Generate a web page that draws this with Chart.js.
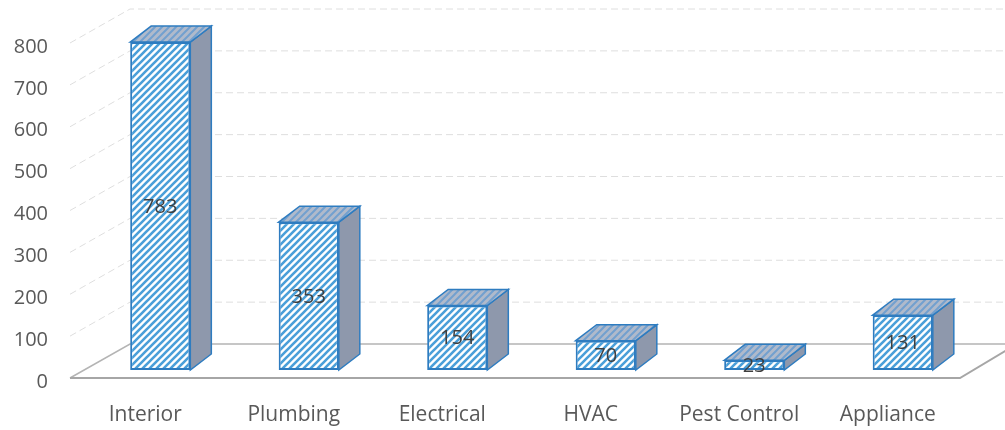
<!DOCTYPE html>
<html>
<head>
<meta charset="utf-8">
<script src="https://cdn.jsdelivr.net/npm/chart.js@4.4.1/dist/chart.umd.min.js"></script>
<style>
  body { margin: 0; background: #fff; }
  #wrap { width: 1005px; height: 430px; position: relative; }
</style>
</head>
<body>
<div id="wrap"><canvas id="myChart"></canvas></div>
<script>
const categories = ['Interior', 'Plumbing', 'Electrical', 'HVAC', 'Pest Control', 'Appliance'];
const counts = [783, 353, 154, 70, 23, 131];
const yMax = 800;
const yStep = 100;

// depth of the boxes and of the floor / back wall
const DEPTH_X = 21, DEPTH_Y = 16;
const FLOOR_FRONT = { dx: -16, dy: 8 };
const FLOOR_BACK = { dx: 44, dy: -26 };
const FONT = 'Open Sans';

function stripePattern(bg, stripe, size, width) {
    const c = document.createElement('canvas');
    c.width = size;
    c.height = size;
    const g = c.getContext('2d');
    if (bg) {
        g.fillStyle = bg;
        g.fillRect(0, 0, size, size);
    }
    g.strokeStyle = stripe;
    g.lineWidth = width;
    g.beginPath();
    g.moveTo(-1, size + 1); g.lineTo(size + 1, -1);
    g.moveTo(-1, 1); g.lineTo(1, -1);
    g.moveTo(size - 1, size + 1); g.lineTo(size + 1, size - 1);
    g.stroke();
    return g.createPattern(c, 'repeat');
}

const ctx = document.getElementById('myChart').getContext('2d');
const frontFill = stripePattern('#ffffff', '#4a9fd9', 7, 2.6);
const topFill = stripePattern('#b0bacb', '#72a0cf', 7, 2.0);

const boxPlugin = {
    id: 'box3d',
    beforeDatasetsDraw(chart) {
        const { ctx, chartArea, scales } = chart;
        const y = scales.y;
        const left = chartArea.left, right = chartArea.right;
        const y0 = y.getPixelForValue(0);
        ctx.save();

        // back wall grid lines with the short diagonals on the side wall
        ctx.strokeStyle = '#dedede';
        ctx.lineWidth = 1;
        ctx.setLineDash([7, 4]);
        for (let v = yStep; v <= yMax; v += yStep) {
            const py = y.getPixelForValue(v);
            ctx.beginPath();
            ctx.moveTo(left + FLOOR_FRONT.dx, py + FLOOR_FRONT.dy);
            ctx.lineTo(left + FLOOR_BACK.dx, py + FLOOR_BACK.dy);
            ctx.lineTo(chart.width, py + FLOOR_BACK.dy);
            ctx.stroke();
        }
        ctx.setLineDash([]);

        // floor
        ctx.strokeStyle = '#b4b4b4';
        ctx.lineWidth = 1.5;
        ctx.beginPath();
        ctx.moveTo(left + FLOOR_FRONT.dx, y0 + FLOOR_FRONT.dy);
        ctx.lineTo(left + FLOOR_BACK.dx, y0 + FLOOR_BACK.dy);
        ctx.lineTo(chart.width, y0 + FLOOR_BACK.dy);
        ctx.stroke();
        ctx.strokeStyle = '#a6a6a6';
        ctx.lineWidth = 2;
        ctx.beginPath();
        ctx.moveTo(left + FLOOR_FRONT.dx, y0 + FLOOR_FRONT.dy);
        ctx.lineTo(right - 17, y0 + FLOOR_FRONT.dy);
        ctx.lineTo(right + 30, y0 + FLOOR_FRONT.dy - 28);
        ctx.stroke();
        ctx.restore();
    },
    afterDatasetsDraw(chart) {
        const { ctx } = chart;
        const meta = chart.getDatasetMeta(0);
        ctx.save();
        meta.data.forEach((bar, i) => {
            const l = bar.x - bar.width / 2;
            const r = bar.x + bar.width / 2;
            const t = bar.y;
            const b = bar.base;

            // right side
            ctx.beginPath();
            ctx.moveTo(r, t);
            ctx.lineTo(r + DEPTH_X, t - DEPTH_Y);
            ctx.lineTo(r + DEPTH_X, b - DEPTH_Y);
            ctx.lineTo(r, b);
            ctx.closePath();
            ctx.fillStyle = '#8e98ac';
            ctx.fill();
            ctx.strokeStyle = '#2e7cc0';
            ctx.lineWidth = 1.5;
            ctx.stroke();

            // top
            ctx.beginPath();
            ctx.moveTo(l, t);
            ctx.lineTo(l + DEPTH_X, t - DEPTH_Y);
            ctx.lineTo(r + DEPTH_X, t - DEPTH_Y);
            ctx.lineTo(r, t);
            ctx.closePath();
            ctx.fillStyle = topFill;
            ctx.fill();
            ctx.stroke();

            // value label
            ctx.fillStyle = '#3f3f3f';
            ctx.font = '20px "' + FONT + '"';
            ctx.textAlign = 'center';
            ctx.textBaseline = 'middle';
            ctx.fillText(counts[i], bar.x, (t + b) / 2 + 1);
        });
        ctx.restore();
    }
};

const myChart = new Chart(ctx, {
    type: 'bar',
    data: {
        labels: categories,
        datasets: [{
            data: counts,
            backgroundColor: frontFill,
            borderColor: '#2e7cc0',
            borderWidth: 2,
            borderSkipped: false,
            categoryPercentage: 1,
            barPercentage: 0.405
        }]
    },
    options: {
        responsive: true,
        maintainAspectRatio: false,
        animation: false,
        layout: { padding: { top: 35, right: 28, bottom: 0, left: 12 } },
        plugins: {
            legend: { display: false },
            tooltip: { enabled: false }
        },
        scales: {
            x: {
                grid: { display: false, drawTicks: false },
                border: { display: false },
                afterFit(scale) { scale.height = 60; },
                ticks: {
                    color: '#595959',
                    font: { family: FONT, size: 21 },
                    padding: 32,
                    labelOffset: -15,
                    maxRotation: 0
                }
            },
            y: {
                min: 0,
                max: yMax,
                grid: { display: false, drawTicks: false },
                border: { display: false },
                afterFit(scale) {
                    scale.width = 74;
                    scale.paddingTop = 0;
                    scale.paddingBottom = 0;
                },
                ticks: {
                    stepSize: yStep,
                    color: '#595959',
                    font: { family: FONT, size: 20 },
                    padding: 38,
                    labelOffset: 12
                }
            }
        }
    },
    plugins: [boxPlugin]
});
</script>
</body>
</html>
